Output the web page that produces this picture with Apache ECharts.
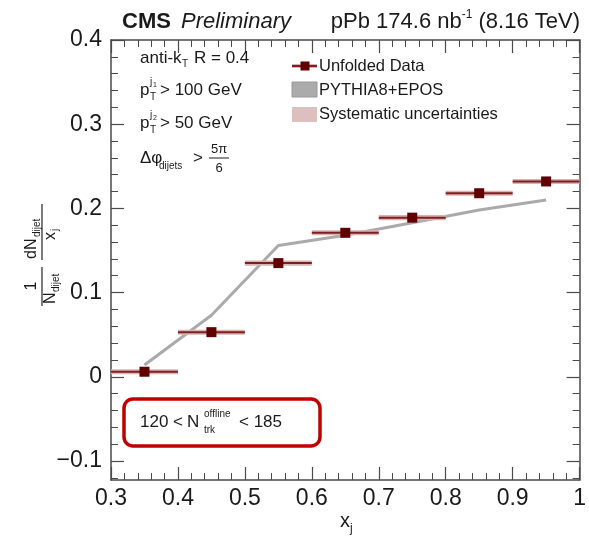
<!DOCTYPE html>
<html>
<head>
<meta charset="utf-8">
<script src="https://cdn.jsdelivr.net/npm/echarts@6/dist/echarts.min.js"></script>
<style>
html, body { margin: 0; padding: 0; background: #fff; }
#chart { width: 589px; height: 539px; }
</style>
</head>
<body>
<div id="chart"></div>
<script>
// bins in x_j
var binLow = [0.3, 0.4, 0.5, 0.6, 0.7, 0.8, 0.9];
var binHigh = [0.4, 0.5, 0.6, 0.7, 0.8, 0.9, 1.0];
var binCenter = [0.35, 0.45, 0.55, 0.65, 0.75, 0.85, 0.95];

// 1/N dN/dx_j
var unfoldedData = [0.006, 0.053, 0.135, 0.171, 0.189, 0.218, 0.232];
var systUnc = [0.003, 0.003, 0.003, 0.003, 0.003, 0.003, 0.003];
var pythiaEpos = [0.014, 0.073, 0.156, 0.168, 0.183, 0.198, 0.21];

var yMajorTicks = [-0.1, 0, 0.1, 0.2, 0.3, 0.4];
var yMinorTicks = [-0.12, -0.08, -0.06, -0.04, -0.02, 0.02, 0.04, 0.06, 0.08,
    0.12, 0.14, 0.16, 0.18, 0.22, 0.24, 0.26, 0.28, 0.32, 0.34, 0.36, 0.38];

var FONT = "'Liberation Sans', Arial, sans-serif";
var AX = '#4a4a4a';
var DARK_RED = '#600000';
var BAR_RED = '#7d1f1f';

var chart = echarts.init(document.getElementById('chart'));

function txt(x, y, text, size, extra) {
    var style = { text: text, x: 0, y: 0, fontFamily: FONT, fontSize: size, fill: '#1a1a1a',
        align: 'left', verticalAlign: 'middle' };
    if (extra) for (var k in extra) style[k] = extra[k];
    return { type: 'text', x: x, y: y, style: style, z: 10 };
}

function hline(x1, y1, x2, y2, color, w) {
    return { type: 'line', shape: { x1: x1, y1: y1, x2: x2, y2: y2 }, style: { stroke: color, lineWidth: w }, z: 10 };
}

var xAxisBase = {
    type: 'value', min: 0.3, max: 1, interval: 0.1,
    axisLine: { onZero: false, lineStyle: { color: AX, width: 1.5 } },
    axisTick: { inside: true, length: 13, lineStyle: { color: AX, width: 1.2 } },
    minorTick: { show: true, splitNumber: 5, length: 7, lineStyle: { color: AX, width: 1 } },
    splitLine: { show: false }
};

function yAxisDef(pos, ticks, len, showLabel, showLine) {
    return {
        type: 'value', position: pos, min: -0.1226, max: 0.4,
        axisLine: { show: showLine, onZero: false, lineStyle: { color: AX, width: 1.5 } },
        axisTick: { inside: true, length: len, customValues: ticks, lineStyle: { color: AX, width: len > 10 ? 1.2 : 1 } },
        axisLabel: {
            show: showLabel, customValues: ticks, margin: 9,
            fontFamily: FONT, fontSize: 23, color: '#1a1a1a',
            formatter: function (v) { return v === 0 ? '0' : (v < 0 ? '\u2212' : '') + Math.abs(v); }
        },
        splitLine: { show: false }
    };
}

var yTitle = {
    type: 'group', x: 42, y: 306, rotation: Math.PI / 2,
    children: [
        hline(0, 0, 39, 0, '#333', 1.3),
        txt(20, -2, '1', 16, { align: 'center', verticalAlign: 'bottom' }),
        txt(2, 1, 'N', 16, { verticalAlign: 'top' }),
        txt(14, 9, 'dijet', 10, { verticalAlign: 'top' }),
        hline(46, 0, 102, 0, '#333', 1.3),
        txt(47, -2, 'dN', 16, { verticalAlign: 'bottom' }),
        txt(69, 0, 'dijet', 10, { verticalAlign: 'bottom' }),
        txt(66, 1, 'x', 16, { verticalAlign: 'top' }),
        txt(75, 8, 'j', 10, { verticalAlign: 'top' })
    ]
};

var graphics = [
    yTitle,
    // header
    txt(122, 22, 'CMS', 22, { fontWeight: 'bold' }),
    txt(181, 22, 'Preliminary', 22, { fontStyle: 'italic' }),
    {
        type: 'text', x: 580, y: 22, z: 10,
        style: {
            text: '{a|pPb 174.6 nb}{s|-1}{a| (8.16 TeV)}', align: 'right', verticalAlign: 'middle',
            rich: {
                a: { fontFamily: FONT, fontSize: 22, lineHeight: 26, fill: '#1a1a1a' },
                s: { fontFamily: FONT, fontSize: 12, lineHeight: 14, verticalAlign: 'top', fill: '#1a1a1a' }
            }
        }
    },
    // selection text
    txt(140, 58, 'anti-k', 17),
    txt(182, 64, 'T', 10),
    txt(194, 58, 'R = 0.4', 17),
    txt(140, 90, 'p', 17),
    txt(150, 97, 'T', 10),
    txt(150, 82, 'j', 10),
    txt(153, 85, '1', 7),
    txt(160, 90, '> 100 GeV', 17),
    txt(140, 123, 'p', 17),
    txt(150, 130, 'T', 10),
    txt(150, 115, 'j', 10),
    txt(153, 118, '2', 7),
    txt(160, 123, '> 50 GeV', 17),
    txt(140, 158, '\u0394\u03c6', 17),
    txt(159, 166, 'dijets', 10),
    txt(193, 158, '>', 17),
    txt(219, 149, '5\u03c0', 13, { align: 'center' }),
    hline(209, 158, 229, 158, '#1a1a1a', 1),
    txt(219, 168, '6', 13, { align: 'center' }),
    // legend
    { type: 'rect', shape: { x: 292, y: 64, width: 25, height: 4 }, style: { fill: '#d9b3b3' }, z: 10 },
    hline(292, 66, 317, 66, BAR_RED, 2),
    { type: 'rect', shape: { x: 300.5, y: 61.5, width: 9, height: 9 }, style: { fill: DARK_RED }, z: 11 },
    txt(319, 66, 'Unfolded Data', 16.5),
    { type: 'rect', shape: { x: 292, y: 82, width: 25, height: 15 }, style: { fill: '#ababab', stroke: '#9a9a9a', lineWidth: 1 }, z: 10 },
    txt(319, 90, 'PYTHIA8+EPOS', 16.5),
    { type: 'rect', shape: { x: 292, y: 107, width: 25, height: 15 }, style: { fill: '#dcbfbf' }, z: 10 },
    txt(319, 114, 'Systematic uncertainties', 16.5),
    // multiplicity box
    { type: 'rect', shape: { x: 124, y: 399, width: 196, height: 47, r: 9 }, style: { fill: 'none', stroke: '#c00000', lineWidth: 3.5 }, z: 10 },
    txt(140, 422, '120 <', 17),
    txt(187, 422, 'N', 17),
    txt(204, 430, 'trk', 10),
    txt(204, 414, 'offline', 10),
    txt(239, 422, '< 185', 17),
    // x title
    txt(340, 521, 'x', 20),
    txt(350, 529, 'j', 12)
];

chart.setOption({
    animation: false,
    backgroundColor: '#fff',
    grid: { left: 111, right: 8, top: 40, bottom: 59 },
    xAxis: [
        Object.assign({}, xAxisBase, {
            position: 'bottom',
            axisLabel: { margin: 7, fontFamily: FONT, fontSize: 23, color: '#1a1a1a',
                formatter: function (v) { return String(+v.toFixed(2)); } }
        }),
        Object.assign({}, xAxisBase, { position: 'top', axisLabel: { show: false } })
    ],
    yAxis: [
        yAxisDef('left', yMajorTicks, 13, true, true),
        yAxisDef('left', yMinorTicks, 7, false, false),
        yAxisDef('right', yMajorTicks, 13, false, true),
        yAxisDef('right', yMinorTicks, 7, false, false)
    ],
    graphic: graphics,
    series: [
        {
            type: 'line', name: 'PYTHIA8+EPOS',
            data: binCenter.map(function (x, i) { return [x, pythiaEpos[i]]; }),
            symbol: 'none', lineStyle: { color: '#aaaaaa', width: 3 }, z: 2
        },
        {
            type: 'custom', name: 'Systematic uncertainties',
            data: binCenter.map(function (x, i) { return [binLow[i], binHigh[i], unfoldedData[i], systUnc[i]]; }),
            encode: { x: [0, 1], y: 2 },
            renderItem: function (params, api) {
                var lo = api.value(0), hi = api.value(1), y = api.value(2), s = api.value(3);
                var a = api.coord([lo, y + s]), b = api.coord([hi, y - s]);
                var l = api.coord([lo, y]), r = api.coord([hi, y]);
                return {
                    type: 'group',
                    children: [
                        { type: 'rect', shape: { x: a[0], y: a[1], width: b[0] - a[0], height: b[1] - a[1] }, style: { fill: '#d9b3b3' } },
                        { type: 'line', shape: { x1: l[0], y1: l[1], x2: r[0], y2: r[1] }, style: { stroke: BAR_RED, lineWidth: 2 } }
                    ]
                };
            },
            z: 3
        },
        {
            type: 'scatter', name: 'Unfolded Data',
            data: binCenter.map(function (x, i) { return [x, unfoldedData[i]]; }),
            symbol: 'rect', symbolSize: 10, itemStyle: { color: DARK_RED, opacity: 1 }, z: 4
        }
    ]
});
</script>
</body>
</html>
